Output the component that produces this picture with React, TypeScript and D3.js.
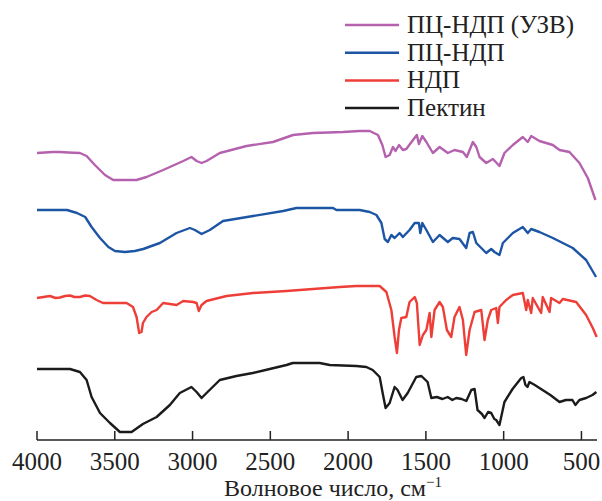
import React from "react";
import * as d3 from "d3";

// Wavenumber (cm^-1) and relative transmittance (arbitrary offset units)
const pectin: [number, number][] = [
  [4000, 71], [3788, 71], [3724, 68], [3681, 60], [3649, 43], [3595, 27], [3531, 17], [3467, 8],
  [3392, 8], [3319, 16], [3231, 23], [3146, 35], [3082, 47], [3007, 53], [2974, 48], [2942, 42],
  [2910, 47], [2825, 60], [2718, 64], [2613, 67], [2504, 71], [2396, 75], [2356, 77], [2183, 77],
  [2118, 75], [1947, 74], [1883, 73], [1842, 70], [1797, 63], [1778, 47], [1759, 32], [1733, 37],
  [1701, 53], [1682, 50], [1650, 40], [1617, 47], [1562, 63], [1529, 64], [1489, 58], [1465, 42],
  [1430, 43], [1393, 41], [1360, 43], [1330, 40], [1305, 42], [1270, 41], [1240, 39], [1208, 50],
  [1187, 51], [1168, 30], [1140, 26], [1123, 22], [1100, 28], [1080, 27], [1060, 21], [1048, 20],
  [1027, 15], [995, 38], [943, 51], [887, 62], [873, 63], [860, 55], [847, 53], [834, 58], [800, 55],
  [750, 50], [700, 45], [641, 38], [600, 40], [558, 40], [539, 35], [513, 40], [470, 42], [429, 45], [404, 48],
];

const ndp: [number, number][] = [
  [4000, 142], [3917, 144], [3880, 142], [3852, 142.5], [3820, 144], [3788, 144.5], [3760, 143],
  [3724, 143], [3690, 144.5], [3660, 144], [3617, 140], [3576, 137], [3512, 137], [3424, 137],
  [3383, 133], [3360, 123], [3343, 107], [3328, 108], [3319, 117], [3296, 123], [3263, 128],
  [3231, 130], [3189, 137], [3103, 135], [3060, 139], [2996, 138], [2974, 137], [2960, 129],
  [2942, 135], [2910, 139], [2782, 144], [2611, 147], [2396, 149], [2226, 151], [2054, 153],
  [1947, 154], [1797, 154], [1754, 148], [1722, 130], [1701, 103], [1686, 87], [1673, 110],
  [1658, 122], [1626, 123], [1605, 138], [1572, 143], [1558, 137], [1540, 95], [1519, 105],
  [1497, 110], [1476, 127], [1465, 103], [1444, 130], [1412, 138], [1391, 133], [1365, 110],
  [1337, 103], [1316, 123], [1284, 133], [1262, 120], [1241, 85], [1219, 110], [1187, 128],
  [1144, 130], [1123, 100], [1102, 120], [1080, 130], [1048, 132], [1037, 117], [1027, 133],
  [984, 140], [941, 145], [877, 147], [855, 130], [845, 140], [823, 127], [813, 142], [759, 127],
  [749, 143], [705, 128], [695, 142], [641, 137], [620, 141], [534, 138], [470, 125], [427, 112], [402, 103],
];

const pcNdp: [number, number][] = [
  [4000, 230], [3807, 230], [3743, 227], [3690, 223], [3649, 213], [3595, 202], [3541, 193],
  [3499, 189], [3435, 188], [3371, 189], [3317, 191], [3210, 197], [3103, 207], [3017, 212],
  [2985, 210], [2942, 206], [2889, 210], [2804, 219], [2611, 224], [2418, 229], [2332, 232],
  [2097, 232], [2075, 230], [1926, 230], [1861, 228], [1818, 225], [1786, 217], [1765, 201],
  [1744, 198], [1722, 205], [1701, 202], [1669, 207], [1648, 203], [1605, 210], [1572, 217],
  [1545, 217], [1536, 207], [1523, 217], [1497, 210], [1455, 198], [1412, 205], [1359, 198],
  [1327, 202], [1284, 201], [1241, 192], [1219, 207], [1198, 208], [1176, 197], [1112, 187],
  [1080, 191], [1059, 188], [1027, 185], [1005, 197], [941, 207], [877, 213], [845, 207],
  [823, 211], [770, 208], [684, 202], [620, 197], [556, 192], [470, 180], [406, 163],
];

const pcNdpUs: [number, number][] = [
  [4000, 287], [3900, 288], [3852, 288], [3800, 287.5], [3724, 287], [3681, 284], [3628, 275],
  [3563, 265], [3510, 260], [3360, 260], [3296, 263], [3189, 270], [3060, 279], [3007, 283],
  [2974, 279], [2942, 277], [2910, 279], [2825, 287], [2653, 294], [2483, 298], [2354, 305],
  [2226, 307], [2033, 308], [1926, 309], [1861, 309], [1808, 305], [1780, 295], [1759, 283],
  [1733, 285], [1712, 293], [1695, 289], [1673, 295], [1648, 290], [1626, 291], [1583, 300],
  [1558, 305], [1545, 296], [1523, 304], [1497, 298], [1455, 287], [1412, 293], [1359, 287],
  [1316, 290], [1262, 288], [1237, 283], [1198, 298], [1176, 293], [1155, 283], [1112, 277],
  [1069, 281], [1027, 274], [995, 287], [941, 295], [877, 303], [845, 298], [823, 304], [770, 299],
  [684, 295], [641, 290], [577, 288], [513, 277], [459, 262], [410, 240],
];

const series = [
  { name: "ПЦ-НДП (УЗВ)", data: pcNdpUs, color: "#b462ae" },
  { name: "ПЦ-НДП", data: pcNdp, color: "#1d55a5" },
  { name: "НДП", data: ndp, color: "#ee3e38" },
  { name: "Пектин", data: pectin, color: "#1b1b1b" },
];

const xTicks = [4000, 3500, 3000, 2500, 2000, 1500, 1000, 500];

export default function App() {
  const W = 602, H = 501;
  const x = d3.scaleLinear().domain([4000, 400]).range([37, 597]);
  const y = d3.scaleLinear().domain([0, 340]).range([440, 100]);
  const line = d3.line<[number, number]>().x((d) => x(d[0])).y((d) => y(d[1]));
  const fontStyle = { fontFamily: "'Times New Roman', Tinos, 'Liberation Serif', 'Noto Serif', 'DejaVu Serif', Times, serif" };
  return (
    <svg width={W} height={H} style={{ position: "absolute", left: 0, top: 0, background: "#fff" }}>
      {series.map((s) => (
        <path key={s.name} d={line(s.data) || ""} fill="none" stroke={s.color} strokeWidth={2.4} strokeLinejoin="round" />
      ))}
      <line x1={x(4000)} x2={x(400)} y1={440} y2={440} stroke="#222" strokeWidth={1.5} />
      {xTicks.map((t) => (
        <g key={t}>
          <line x1={x(t)} x2={x(t)} y1={440} y2={431} stroke="#222" strokeWidth={1.5} />
          <text x={x(t)} y={470} textAnchor="middle" style={fontStyle} fontSize={25} fill="#222">{t}</text>
        </g>
      ))}
      <text x={333} y={496} textAnchor="middle" style={fontStyle} fontSize={24} fill="#222">
        Волновое число, см
        <tspan dy={-9} fontSize={15}>−1</tspan>
      </text>
      {series.map((s, i) => (
        <g key={s.name}>
          <line x1={345} x2={399} y1={25 + i * 27.7} y2={25 + i * 27.7} stroke={s.color} strokeWidth={2.5} />
          <text x={407} y={33} style={fontStyle} dy={i * 27.7} fontSize={25} fill="#222">{s.name}</text>
        </g>
      ))}
    </svg>
  );
}
